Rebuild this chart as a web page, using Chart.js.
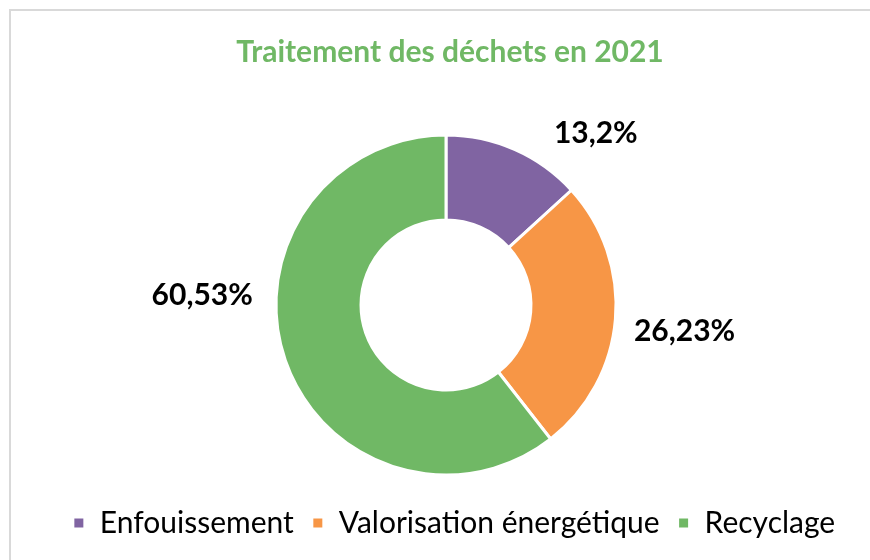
<!DOCTYPE html>
<html>
<head>
<meta charset="utf-8">
<script src="https://cdn.jsdelivr.net/npm/chart.js@4"></script>
<style>
  html, body { margin: 0; padding: 0; background: #fff; overflow: hidden; }
  #frame { position: absolute; left: 9px; top: 9px; width: 900px; height: 600px; border: 2px solid #d9d9d9; }
  #canvas { position: absolute; left: 0; top: 0; }
</style>
</head>
<body>
<div id="frame"></div>
<canvas id="canvas" width="870" height="560"></canvas>
<script>
var categories = ['Enfouissement', 'Valorisation énergétique', 'Recyclage'];
var values = [13.2, 26.23, 60.53];
var valueLabels = ['13,2%', '26,23%', '60,53%'];
var colors = ['#8064A2', '#F79646', '#70B865'];

// where each label sits: angle shift (deg) from slice middle, distance from centre
var labelPlace = [
    { shift: 17.3, dist: 228 },
    { shift: 1.5, dist: 240 },
    { shift: 21.2, dist: 244 }
];

var outsideLabels = {
    id: 'outsideLabels',
    afterLayout: function (chart) {
        // title and legend sit a bit right of the doughnut centre in the original
        chart.titleBlock.left += 4;
        chart.titleBlock.right += 4;
        chart.legend.left += 8;
        chart.legend.right += 8;
    },
    afterDatasetsDraw: function (chart) {
        var ctx = chart.ctx;
        var meta = chart.getDatasetMeta(0);
        ctx.save();
        ctx.font = 'bold 30px Lato';
        ctx.fillStyle = '#000';
        ctx.textAlign = 'center';
        ctx.textBaseline = 'middle';
        meta.data.forEach(function (arc, i) {
            var p = arc.getProps(['x', 'y', 'startAngle', 'endAngle']);
            var a = (p.startAngle + p.endAngle) / 2 + labelPlace[i].shift * Math.PI / 180;
            ctx.fillText(valueLabels[i], p.x + Math.cos(a) * labelPlace[i].dist, p.y + Math.sin(a) * labelPlace[i].dist);
        });
        ctx.restore();
    }
};

var myChart = new Chart(document.getElementById('canvas'), {
    type: 'doughnut',
    data: {
        labels: categories,
        datasets: [{
            data: values,
            backgroundColor: colors,
            borderColor: '#ffffff',
            borderWidth: 3
        }]
    },
    options: {
        responsive: false,
        animation: false,
        radius: 170,
        cutout: '50%',
        layout: { padding: { left: 22, right: 0, top: 0, bottom: 12 } },
        plugins: {
            title: {
                display: true,
                text: 'Traitement des déchets en 2021',
                color: '#70B865',
                font: { family: 'Lato', size: 30, weight: 'bold', lineHeight: 1.2 },
                padding: { top: 34, bottom: 50 }
            },
            legend: {
                position: 'bottom',
                labels: {
                    color: '#000',
                    font: { family: 'Lato', size: 30 },
                    boxWidth: 12,
                    boxHeight: 12,
                    padding: 18
                }
            },
            tooltip: { enabled: false }
        }
    },
    plugins: [outsideLabels]
});
</script>
</body>
</html>
